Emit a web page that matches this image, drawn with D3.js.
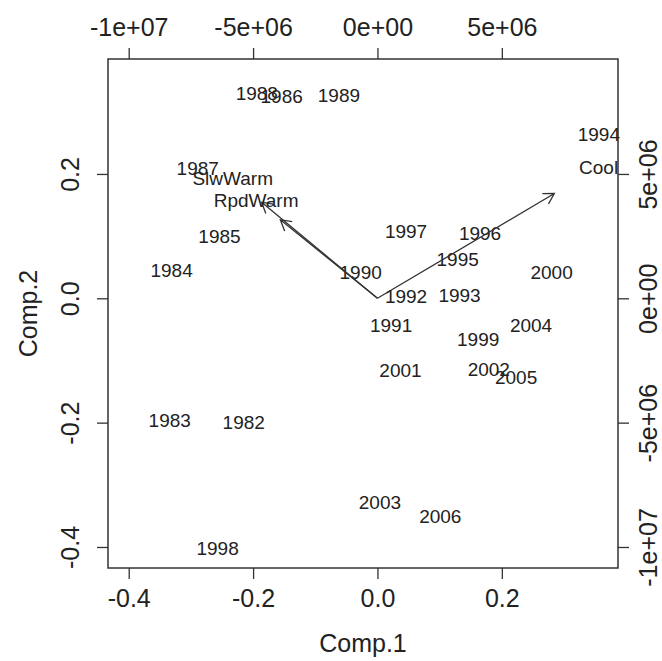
<!DOCTYPE html>
<html>
<head>
<meta charset="utf-8">
<script src="https://cdn.jsdelivr.net/npm/d3@7"></script>
<style>
  body { margin: 0; background: #fff; }
  text { font-family: "Liberation Sans", Arial, sans-serif; fill: #222; }
</style>
</head>
<body>
<div id="chart"></div>
<script>
// scores (Comp.1, Comp.2) for each year
var years = ["1982","1983","1984","1985","1986","1987","1988","1989","1990","1991",
             "1992","1993","1994","1995","1996","1997","1998","1999","2000","2001",
             "2002","2003","2004","2005","2006"];
var comp1 = [-0.215,-0.334,-0.331,-0.254,-0.154,-0.289,-0.194,-0.062,-0.027,0.022,
             0.046,0.132,0.356,0.129,0.165,0.046,-0.257,0.162,0.280,0.037,
             0.179,0.004,0.247,0.223,0.101];
var comp2 = [-0.200,-0.197,0.044,0.099,0.325,0.209,0.330,0.326,0.042,-0.043,
             0.003,0.005,0.263,0.063,0.104,0.107,-0.403,-0.066,0.041,-0.116,
             -0.114,-0.329,-0.044,-0.128,-0.351];

// loadings (secondary axes)
var varNames = ["Cool","SlwWarm","RpdWarm"];
var load1 = [8.89e6, -5.82e6, -4.88e6];
var load2 = [5.27e6, 4.83e6, 3.95e6];

// axis ticks
var bottomTicks = [-0.4, -0.2, 0.0, 0.2];
var bottomLabels = ["-0.4", "-0.2", "0.0", "0.2"];
var leftTicks = [-0.4, -0.2, 0.0, 0.2];
var leftLabels = ["-0.4", "-0.2", "0.0", "0.2"];
var topTicks = [-1e7, -5e6, 0, 5e6];
var topLabels = ["-1e+07", "-5e+06", "0e+00", "5e+06"];
var rightTicks = [-1e7, -5e6, 0, 5e6];
var rightLabels = ["-1e+07", "-5e+06", "0e+00", "5e+06"];

var width = 662, height = 661;
var box = {left: 108, right: 618, top: 59, bottom: 568};
var ink = "#333";

var svg = d3.select("#chart").append("svg")
    .attr("width", width)
    .attr("height", height);

var x = d3.scaleLinear().domain([-0.4333, 0.3868]).range([box.left, box.right]);
var y = d3.scaleLinear().domain([-0.4338, 0.3849]).range([box.bottom, box.top]);
// secondary scales, 5e6 lines up with 0.2
var k = 2.5e7;
var x2 = d3.scaleLinear().domain(x.domain().map(function(d) { return d * k; })).range(x.range());
var y2 = d3.scaleLinear().domain(y.domain().map(function(d) { return d * k; })).range(y.range());

function styleAxis(g) {
  g.select(".domain").remove();
  g.selectAll("line").attr("stroke", ink).attr("stroke-width", 1.3);
  g.selectAll("text").style("font-size", "25px").attr("fill", "#222");
}

// bottom axis
svg.append("g")
    .attr("transform", "translate(0," + box.bottom + ")")
    .call(d3.axisBottom(x).tickValues(bottomTicks)
      .tickFormat(function(d, i) { return bottomLabels[i]; })
      .tickSize(11).tickPadding(10))
    .call(styleAxis);

// top axis
svg.append("g")
    .attr("transform", "translate(0," + box.top + ")")
    .call(d3.axisTop(x2).tickValues(topTicks)
      .tickFormat(function(d, i) { return topLabels[i]; })
      .tickSize(11).tickPadding(12))
    .call(styleAxis);

// left axis, labels rotated
var gl = svg.append("g")
    .attr("transform", "translate(" + box.left + ",0)")
    .call(d3.axisLeft(y).tickValues(leftTicks)
      .tickFormat(function(d, i) { return leftLabels[i]; })
      .tickSize(11))
    .call(styleAxis);
gl.selectAll(".tick text")
    .attr("x", 0).attr("dy", null)
    .attr("transform", "translate(-38,0) rotate(-90)")
    .attr("text-anchor", "middle")
    .attr("dominant-baseline", "central");

// right axis, labels rotated
var gr = svg.append("g")
    .attr("transform", "translate(" + box.right + ",0)")
    .call(d3.axisRight(y2).tickValues(rightTicks)
      .tickFormat(function(d, i) { return rightLabels[i]; })
      .tickSize(11))
    .call(styleAxis);
gr.selectAll(".tick text")
    .attr("x", 0).attr("dy", null)
    .attr("transform", "translate(30,0) rotate(-90)")
    .attr("text-anchor", "middle")
    .attr("dominant-baseline", "central");

// box
svg.append("rect")
    .attr("x", box.left).attr("y", box.top)
    .attr("width", box.right - box.left)
    .attr("height", box.bottom - box.top)
    .attr("fill", "none")
    .attr("stroke", ink)
    .attr("stroke-width", 1.5);

// axis titles
svg.append("text")
    .attr("x", (box.left + box.right) / 2)
    .attr("y", 643)
    .attr("text-anchor", "middle")
    .attr("dominant-baseline", "central")
    .style("font-size", "25px")
    .text("Comp.1");

svg.append("text")
    .attr("transform", "translate(28," + ((box.top + box.bottom) / 2) + ") rotate(-90)")
    .attr("text-anchor", "middle")
    .attr("dominant-baseline", "central")
    .style("font-size", "25px")
    .text("Comp.2");

// year labels
svg.selectAll("text.year")
    .data(years)
    .enter().append("text")
    .attr("class", "year")
    .attr("x", function(d, i) { return x(comp1[i]); })
    .attr("y", function(d, i) { return y(comp2[i]); })
    .attr("text-anchor", "middle")
    .attr("dominant-baseline", "central")
    .style("font-size", "19px")
    .text(function(d) { return d; });

// loading arrows: R draws them to 0.8 of the label position
var arrowLen = 12, arrowAng = Math.PI / 6;
function arrowPath(i) {
  var x0 = x2(0), y0 = y2(0);
  var x1 = x2(load1[i] * 0.8), y1 = y2(load2[i] * 0.8);
  var a = Math.atan2(y1 - y0, x1 - x0);
  var p = "M" + x0 + "," + y0 + "L" + x1 + "," + y1;
  p += "M" + (x1 - arrowLen * Math.cos(a - arrowAng)) + "," + (y1 - arrowLen * Math.sin(a - arrowAng));
  p += "L" + x1 + "," + y1;
  p += "L" + (x1 - arrowLen * Math.cos(a + arrowAng)) + "," + (y1 - arrowLen * Math.sin(a + arrowAng));
  return p;
}

svg.selectAll("path.arrow")
    .data(varNames)
    .enter().append("path")
    .attr("class", "arrow")
    .attr("d", function(d, i) { return arrowPath(i); })
    .attr("fill", "none")
    .attr("stroke", ink)
    .attr("stroke-width", 1.3);

svg.selectAll("text.var")
    .data(varNames)
    .enter().append("text")
    .attr("class", "var")
    .attr("x", function(d, i) { return x2(load1[i]); })
    .attr("y", function(d, i) { return y2(load2[i]); })
    .attr("text-anchor", "middle")
    .attr("dominant-baseline", "central")
    .style("font-size", "19px")
    .text(function(d) { return d; });
</script>
</body>
</html>
